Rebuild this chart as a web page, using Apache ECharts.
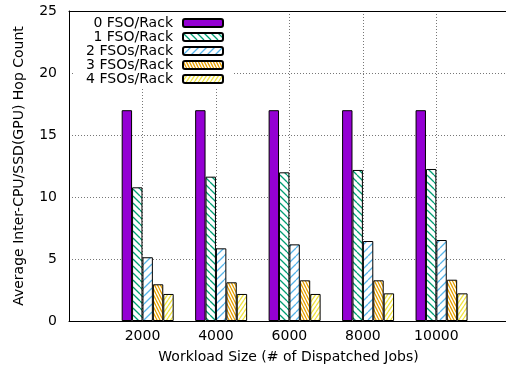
<!DOCTYPE html>
<html>
<head>
<meta charset="utf-8">
<script src="https://cdn.jsdelivr.net/npm/echarts@6/dist/echarts.min.js"></script>
<style>
  html, body { margin: 0; padding: 0; background: #fff; }
  #chart { width: 506px; height: 369px; }
</style>
</head>
<body>
<div id="chart"></div>
<script>
// data
var workloads = [2000, 4000, 6000, 8000, 10000];
var seriesNames = ['0 FSO/Rack', '1 FSO/Rack', '2 FSOs/Rack', '3 FSOs/Rack', '4 FSOs/Rack'];
var fso0 = [17.0, 17.0, 17.0, 17.0, 17.0];
var fso1 = [10.78, 11.64, 11.99, 12.18, 12.26];
var fso2 = [5.14, 5.86, 6.18, 6.45, 6.53];
var fso3 = [2.96, 3.12, 3.28, 3.28, 3.33];
var fso4 = [2.18, 2.18, 2.18, 2.23, 2.23];
var yTicks = [0, 5, 10, 15, 20, 25];

var allValues = [fso0, fso1, fso2, fso3, fso4];

// 斜线填充
function hatch(color, w, h, dir) {
  var c = document.createElement('canvas');
  c.width = w;
  c.height = h;
  var g = c.getContext('2d');
  g.fillStyle = '#fff';
  g.fillRect(0, 0, w, h);
  g.strokeStyle = color;
  g.lineWidth = 1.3;
  g.beginPath();
  for (var k = -1; k <= 1; k++) {
    if (dir === 'back') {
      g.moveTo(k * w, 0);
      g.lineTo(k * w + w, h);
    } else {
      g.moveTo(k * w, h);
      g.lineTo(k * w + w, 0);
    }
  }
  g.stroke();
  return { image: c, repeat: 'repeat' };
}

var fills = [
  '#9400D3',
  hatch('#009E73', 7, 7, 'back'),
  hatch('#56B4E9', 8, 8, 'fwd'),
  hatch('#E69F00', 3, 6, 'back'),
  hatch('#F0E442', 4, 6, 'fwd')
];

var font = 'DejaVu Sans';
var gridLeft = 69, gridRight = -2;
var plotWidth = 506 - gridLeft - gridRight;
var xMax = 11950;
var barW = 10.4;
// 柱组相对刻度右移半个柱宽
var shift = (barW / 2) * xMax / plotWidth;

var series = [];
for (var i = 0; i < seriesNames.length; i++) {
  series.push({
    name: seriesNames[i],
    type: 'bar',
    barWidth: barW,
    barGap: '0%',
    data: workloads.map(function (w, j) { return [w + shift, allValues[i][j]]; }),
    itemStyle: { color: fills[i], borderColor: '#000', borderWidth: 1 },
    emphasis: { disabled: true }
  });
}

var myChart = echarts.init(document.getElementById('chart'));
var option = {
  animation: false,
  grid: {
    left: gridLeft, right: gridRight, top: 11, bottom: 48,
    outerBoundsMode: 'none'
  },
  legend: {
    orient: 'vertical',
    left: 73,
    top: 14,
    align: 'right',
    itemWidth: 40,
    itemHeight: 8,
    itemGap: 0,
    padding: [2, 8, 2, 10],
    backgroundColor: '#fff',
    selectedMode: false,
    data: seriesNames,
    formatter: function (n) { return '{t|' + n + '}'; },
    textStyle: {
      rich: {
        t: {
          width: 90, height: 14, align: 'right', padding: [0, 5, 0, 0],
          fontSize: 14, lineHeight: 14, color: '#000', fontFamily: font
        }
      }
    }
  },
  xAxis: [
    {
      type: 'value',
      min: 0,
      max: xMax,
      interval: 2000,
      name: 'Workload Size (# of Dispatched Jobs)',
      nameLocation: 'middle',
      nameGap: 29,
      nameTextStyle: { fontSize: 14, color: '#000', fontFamily: font },
      axisLine: { show: true, lineStyle: { color: '#000', width: 1 } },
      axisTick: { show: false },
      axisLabel: {
        margin: 8,
        fontSize: 14,
        color: '#000',
        fontFamily: font,
        formatter: function (v) { return (v > 0 && workloads.indexOf(v) >= 0) ? String(v) : ''; }
      },
      splitLine: {
        show: true,
        lineStyle: { color: '#777', type: [1, 2], width: 1 }
      }
    },
    {
      // 上边框
      type: 'value',
      position: 'top',
      min: 0,
      max: xMax,
      axisLine: { show: true, onZero: false, lineStyle: { color: '#000', width: 1 } },
      axisTick: { show: false },
      axisLabel: { show: false },
      splitLine: { show: false }
    }
  ],
  yAxis: {
    type: 'value',
    min: yTicks[0],
    max: yTicks[yTicks.length - 1],
    interval: 5,
    name: 'Average Inter-CPU/SSD(GPU) Hop Count',
    nameLocation: 'middle',
    nameGap: 43,
    nameTextStyle: { fontSize: 14, color: '#000', fontFamily: font },
    axisLine: { show: true, lineStyle: { color: '#000', width: 1 } },
    axisTick: { show: false },
    axisLabel: { margin: 12, fontSize: 14, color: '#000', fontFamily: font },
    splitLine: {
      show: true,
      lineStyle: { color: '#777', type: [1, 2], width: 1 }
    }
  },
  series: series
};
myChart.setOption(option, true);
</script>
</body>
</html>
